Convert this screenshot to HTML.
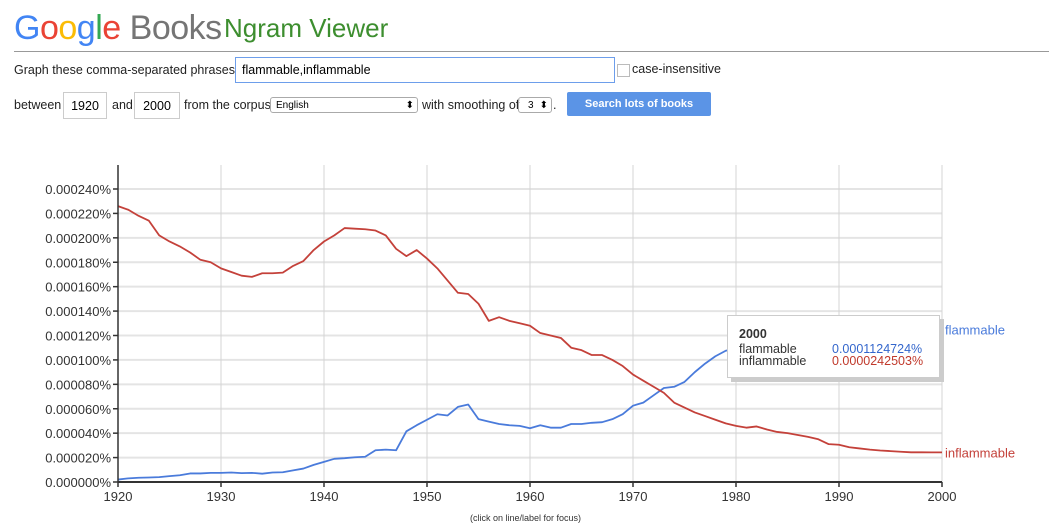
<!DOCTYPE html>
<html><head><meta charset="utf-8"><style>
body{margin:0;width:1049px;height:520px;overflow:hidden;background:#fff;font-family:"Liberation Sans",Arial,sans-serif;position:relative}
.abs{position:absolute}
.ctl{font-size:12.5px;color:#222}
input.box{position:absolute;border:1px solid #ccc;font-family:"Liberation Sans",sans-serif;font-size:12.5px;padding:0;box-sizing:border-box}
</style></head><body>
<div class="abs" style="left:14px;top:6px;font-size:34px;letter-spacing:-0.5px;line-height:44px">
<span style="color:#4285f4">G</span><span style="color:#ea4335">o</span><span style="color:#fbbc05">o</span><span style="color:#4285f4">g</span><span style="color:#34a853">l</span><span style="color:#ea4335">e</span> <span style="color:#757575">Books</span></div>
<div class="abs" style="left:224px;top:13px;font-size:26px;color:#3d8e2f;line-height:30px">Ngram Viewer</div>
<div class="abs" style="left:14px;top:51px;width:1035px;height:1px;background:#999"></div>
<div class="abs ctl" style="left:14px;top:63px">Graph these comma-separated phrases:</div>
<input class="box" value="flammable,inflammable" style="left:235px;top:57px;width:380px;height:26px;border-color:#6d9eeb;padding-left:6px">
<div class="abs" style="left:617px;top:64px;width:11px;height:11px;border:1px solid #bbb"></div>
<div class="abs ctl" style="left:632px;top:62px">case-insensitive</div>
<div class="abs ctl" style="left:14px;top:98px">between</div>
<input class="box" value="1920" style="left:63px;top:92px;width:44px;height:27px;text-align:center">
<div class="abs ctl" style="left:112px;top:98px">and</div>
<input class="box" value="2000" style="left:134px;top:92px;width:46px;height:27px;text-align:center">
<div class="abs ctl" style="left:184px;top:98px">from the corpus</div>
<div class="abs" style="left:270px;top:97px;width:148px;height:15px;border:1px solid #aaa;border-radius:3px;font-size:10px;line-height:15px;padding-left:5px;box-sizing:border-box;height:16px">English<span style="position:absolute;right:3px;top:0">⬍</span></div>
<div class="abs ctl" style="left:422px;top:98px">with smoothing of</div>
<div class="abs" style="left:518px;top:97px;width:34px;height:16px;border:1px solid #aaa;border-radius:3px;font-size:10px;line-height:15px;padding-left:9px;box-sizing:border-box">3<span style="position:absolute;right:3px;top:0">⬍</span></div>
<div class="abs ctl" style="left:553px;top:98px">.</div>
<div class="abs" style="left:567px;top:92px;width:144px;height:24px;background:#5b94e6;border-radius:2px;color:#fff;font-size:11px;font-weight:bold;text-align:center;line-height:24px">Search lots of books</div>

<svg class="abs" style="left:0;top:0" width="1049" height="520">
<g id="grid"></g><g id="series"></g><g id="axes"></g>
</svg>

<div class="abs" style="left:731px;top:319px;width:213px;height:63px;background:#ccc"></div>
<div class="abs" style="left:727px;top:315px;width:211px;height:61px;background:#fff;border:1px solid #ccc;font-size:12.5px;line-height:12px;color:#333">
<div style="position:absolute;left:11px;top:12px;font-weight:bold">2000</div>
<div style="position:absolute;left:11px;top:27px">flammable</div>
<div style="position:absolute;left:104px;top:27px;color:#3366cc">0.0001124724%</div>
<div style="position:absolute;left:11px;top:39px">inflammable</div>
<div style="position:absolute;left:104px;top:39px;color:#c0392b">0.0000242503%</div>
</div>
<div class="abs" style="left:470px;top:513px;font-size:9px;color:#333">(click on line/label for focus)</div>

<script>
const years=[];for(let y=1920;y<=2000;y++)years.push(y);
const xTicks=[1920,1930,1940,1950,1960,1970,1980,1990,2000];
const yTicks=[0,20,40,60,80,100,120,140,160,180,200,220,240];
const yTickLabels=["0.000000%","0.000020%","0.000040%","0.000060%","0.000080%","0.000100%","0.000120%","0.000140%","0.000160%","0.000180%","0.000200%","0.000220%","0.000240%"];
const seriesNames=["flammable","inflammable"];
const flammable=[2,3,3.5,3.7,4,4.8,5.5,7,7,7.5,7.5,7.8,7.3,7.5,6.8,7.8,8,9.5,11,14,16.5,19,19.5,20.3,20.7,26,26.5,26,41.5,46.5,51,55.5,54.5,61.5,63.5,51.5,49.5,47.5,46.5,46,44,46.5,44.5,44.5,47.5,47.5,48.5,49,51.5,55.5,62.5,65,71,77,78,82,90,97,103,107.5,109.5,110.5,111,111.5,112,112,112.2,112.4,112.5,112.5,112.5,112.5,112.5,112.5,112.5,112.5,112.5,112.5,112.5,112.5,112.5];
const inflammable=[226,223,218,214,202,197,193,188,182,180,175,172,169,168,171,171,171.5,177,181,190,197,202,208,207.5,207,206,202,191,185,190,183,175,165,155,154,146,132,135,132,130,128,122,120,118,110,108,104,104,100,95,88,83,78,73,65,61,57,54,51,48,46,44.5,45.5,43,41,40,38.5,37,35,31,30.5,28.5,27.5,26.5,25.8,25.3,24.8,24.3,24.3,24.25,24.25];
const X0=118,X1=942,Y0=482,YTOP=165;
const xs=y=>X0+(y-1920)*(X1-X0)/80;
const ys=v=>Y0-v*(Y0-189)/240;
const NS="http://www.w3.org/2000/svg";
function mk(tag,attrs,parent){const e=document.createElementNS(NS,tag);for(const k in attrs)e.setAttribute(k,attrs[k]);parent.appendChild(e);return e;}
const grid=document.getElementById('grid'),ser=document.getElementById('series'),ax=document.getElementById('axes');
yTicks.forEach((t,i)=>{
 const l=mk('line',{x1:X0,x2:X1,y1:ys(t),y2:ys(t),stroke:'#e4e4e4','stroke-width':2},grid);
 
 
 const tk=mk('line',{x1:X0-5,x2:X0,y1:ys(t),y2:ys(t),stroke:'#333','stroke-width':1.5},ax);
 
 
 const tx=mk('text',{x:X0-7,y:ys(t)+5,'text-anchor':'end','font-size':13,fill:'#333','font-family':'Liberation Sans, sans-serif'},ax);
 tx.textContent=yTickLabels[i];
 
 
});
xTicks.forEach(t=>{
 const l=mk('line',{x1:xs(t),x2:xs(t),y1:YTOP,y2:Y0,stroke:'#d4d4d4','stroke-width':1},grid);
 
 
 const tk=mk('line',{x1:xs(t),x2:xs(t),y1:Y0,y2:Y0+5,stroke:'#333','stroke-width':1.5},ax);
 
 
 const tx=mk('text',{x:xs(t),y:Y0+19,'text-anchor':'middle','font-size':13,fill:'#333','font-family':'Liberation Sans, sans-serif'},ax);
 tx.textContent=t;
 
 
});
const ya=mk('line',{x1:X0,x2:X0,y1:YTOP,y2:Y0,stroke:'#333','stroke-width':1.5},ax);


const xa=mk('line',{x1:X0,x2:X1,y1:Y0,y2:Y0,stroke:'#333','stroke-width':2},ax);


const colors=['#4a7bdb','#c4413a'];
[flammable,inflammable].forEach((d,i)=>{
 const p=mk('polyline',{points:d.map((v,j)=>xs(years[j])+','+ys(v)).join(' '),fill:'none',stroke:colors[i],'stroke-width':1.8,'stroke-linejoin':'round'},ser);
 
 
 const last=d[d.length-1];
 const t=mk('text',{x:X1+3,y:i==0?ys(last)-10:ys(last)+5,'font-size':13,fill:colors[i],'font-family':'Liberation Sans, sans-serif'},ser);
 t.textContent=seriesNames[i];
 
 
});
</script>
</body></html>
